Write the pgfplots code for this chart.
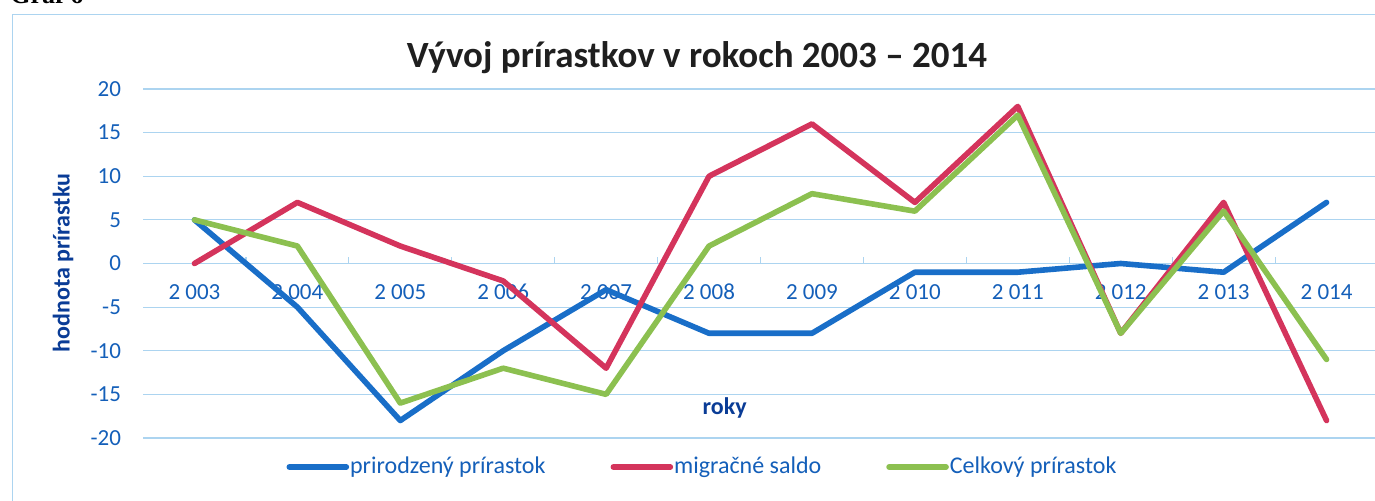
\documentclass[border=0pt]{standalone}
\usepackage{fontspec}
\setmainfont{Carlito}
\newfontfamily\grafserif{Liberation Serif}
\usepackage{pgfplots}
\usepackage{pgfplotstable}
\pgfplotsset{compat=1.18}

\definecolor{natblue}{RGB}{25,110,200}
\definecolor{migred}{RGB}{212,52,92}
\definecolor{totgreen}{RGB}{140,192,80}
\definecolor{gridblue}{RGB}{172,212,240}
\definecolor{ticktext}{RGB}{20,95,185}
\definecolor{labeltext}{RGB}{10,60,150}

% rok (0 = 2003), prirodzeny, migracne saldo, celkovy
\pgfplotstableread{
x  nat  mig  tot
0    5    0    5
1   -5    7    2
2  -18    2  -16
3  -10   -2  -12
4   -3  -12  -15
5   -8   10    2
6   -8   16    8
7   -1    7    6
8   -1   18   17
9    0   -8   -8
10  -1    7    6
11   7  -18  -11
}\prirastky

\begin{document}
\begin{tikzpicture}
\useasboundingbox (0pt,0pt) rectangle (687.5pt,250.5pt);
\node[anchor=base west, inner sep=0pt, font=\grafserif\bfseries\fontsize{13pt}{15pt}\selectfont] at (5pt,248.6pt) {Graf 6};
\draw[gridblue, line width=0.5pt] (6pt,-20pt) rectangle (720pt,243pt);
\begin{axis}[
    at={(71.5pt,31.5pt)}, anchor=south west,
    scale only axis, width=617.5pt, height=174.5pt,
    xmin=-0.5, xmax=11.5, ymin=-20, ymax=20,
    axis x line*=middle, axis y line*=left,
    x axis line style={draw=gridblue, line width=0.6pt, -},
    y axis line style={draw=none},
    xtick={0,...,11},
    xticklabels={2 003,2 004,2 005,2 006,2 007,2 008,2 009,2 010,2 011,2 012,2 013,2 014},
    major x tick style={draw=none},
    minor xtick={0.5,1.5,...,10.5},
    minor x tick style={draw=gridblue, line width=0.6pt},
    minor tick length=3pt,
    ytick={-20,-15,...,20},
    major y tick style={draw=none},
    ymajorgrids, grid style={gridblue, line width=0.6pt},
    /pgf/number format/assume math mode=true,
    xticklabel style={font=\fontsize{11.5pt}{13pt}\selectfont, text=ticktext, anchor=base, yshift=-18pt},
    yticklabel style={font=\fontsize{11.5pt}{13pt}\selectfont, text=ticktext, xshift=-7.5pt},
    title={Vývoj prírastkov v rokoch 2003 – 2014},
    title style={at={(axis description cs:0.4486,1.056)}, anchor=center, font=\bfseries\fontsize{18.5pt}{22pt}\selectfont, text=black!88},
    xlabel={roky}, ylabel={hodnota prírastku},
    every axis x label/.style={at={(axis description cs:0.471,0.086)}, anchor=center, font=\bfseries\fontsize{12pt}{14pt}\selectfont, text=labeltext},
    every axis y label/.style={at={(axis description cs:-0.0648,0.501)}, rotate=90, anchor=center, font=\bfseries\fontsize{12pt}{14pt}\selectfont, text=labeltext},
    legend columns=3,
    legend image code/.code={\draw[#1] (0pt,0pt) -- (28.5pt,0pt);},
    legend style={at={(axis description cs:0.4526,-0.0831)}, anchor=center, draw=none, fill=none,
        font=\fontsize{12pt}{14pt}\selectfont, text=ticktext,
        nodes={inner xsep=0.5pt},
        /tikz/every even column/.append style={column sep=32pt}},
    every axis plot/.append style={line width=2.8pt, line join=round, line cap=round},
]
\addplot[natblue] table[x=x, y=nat] {\prirastky};
\addplot[migred] table[x=x, y=mig] {\prirastky};
\addplot[totgreen] table[x=x, y=tot] {\prirastky};
\legend{prirodzený prírastok, migračné saldo, Celkový prírastok}
\end{axis}
\end{tikzpicture}
\end{document}
